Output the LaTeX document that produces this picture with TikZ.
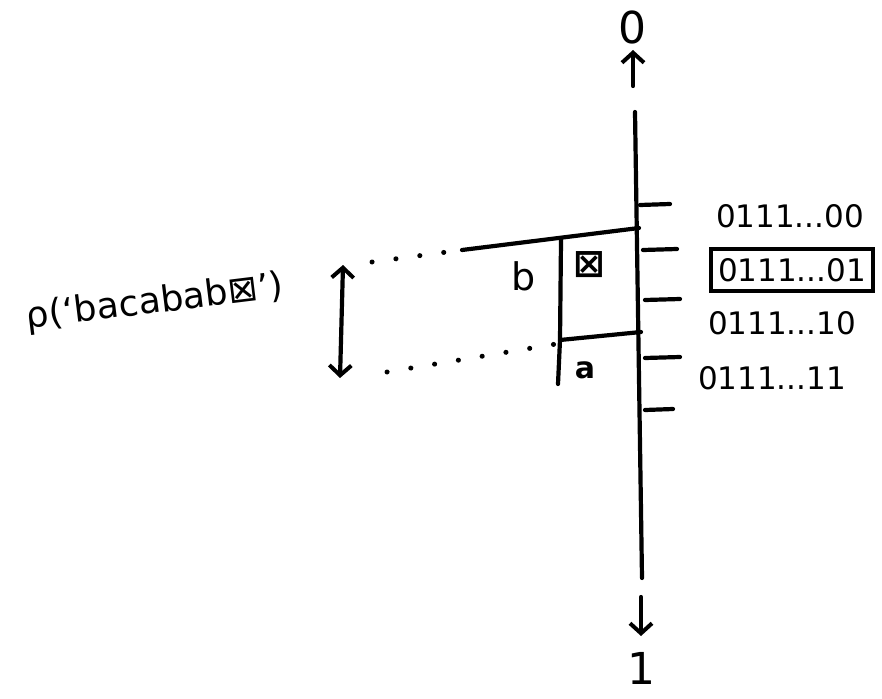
\documentclass[tikz,border=0pt]{standalone}
\usepackage{fontspec}
\setmainfont{DejaVu Sans}
\usetikzlibrary{arrows.meta}
\begin{document}
\begin{tikzpicture}[x=1pt,y=-1pt,
  ink/.style={line width=4.2pt,line cap=round,line join=round},
  barb/.tip={Straight Barb[length=10pt,width=22pt,line width=4pt]},
  tip/.style={ink,-barb},
  dots/.style={line width=5pt,line cap=round,dash pattern=on 0.1pt off 24pt},
  lab/.style={font=\fontsize{31}{33}\selectfont,inner sep=2pt},
  big/.style={font=\fontsize{44}{46}\selectfont,inner sep=0pt}]
\useasboundingbox (0,0) rectangle (882,698);
% main axis
\coordinate (top) at (635,112);
\coordinate (bot) at (642,578);
\draw[ink] (top) -- (bot);
% end arrows and labels
\coordinate (upS) at (633,86);
\coordinate (upE) at (633,50);
\draw[tip] (upS) -- (upE);
\node[big] (zero) at (632,27) {0};
\coordinate (dnS) at (641,597);
\coordinate (dnE) at (641,636);
\draw[tip] (dnS) -- (dnE);
\node[big] (one) at (641,668) {1};
% ticks
\foreach \y/\xa/\xb [count=\i] in {205/640/670, 250/643/677, 300/645/680, 358/645/680, 410/645/673}{
  \coordinate (tA\i) at (\xa,\y);
  \coordinate (tB\i) at (\xb,\y-1);
  \draw[ink] (tA\i) -- (tB\i);
}
% box
\coordinate (bxTL) at (462,250);
\coordinate (bxTR) at (639,228);
\draw[ink] (bxTL) -- (bxTR);
\coordinate (vT) at (561,240);
\coordinate (vM) at (560,340);
\coordinate (vB) at (558,384);
\draw[ink] (vT) -- (vM) -- (vB);
\coordinate (mR) at (641,332);
\draw[ink] (vM) -- (mR);
\node[lab,font=\fontsize{38}{40}\selectfont] (b) at (524,276) {b};
\node[lab,font=\fontsize{38}{40}\selectfont\bfseries] (sq) at (589,265) {⊠};
\node[lab,font=\fontsize{30}{32}\selectfont\bfseries] (a) at (585,370) {a};
% codes
\node[lab] (c00) at (790,216) {0111...00};
\node[lab,draw,line width=4pt,inner xsep=7pt,inner ysep=9pt] (c01) at (792,270) {0111...01};
\node[lab] (c10) at (782,323) {0111...10};
\node[lab] (c11) at (772,378) {0111...11};
% dotted guide lines
\coordinate (dT1) at (372,262);
\draw[dots] (dT1) -- (bxTL);
\coordinate (dB1) at (387,372);
\coordinate (dB2) at (556,344);
\draw[dots] (dB1) -- (dB2);
% double arrow
\coordinate (arT) at (343,265);
\coordinate (arB) at (340,378);
\draw[ink,barb-barb] (arT) -- (arB);
% rho label
\node[lab,font=\fontsize{36}{38}\selectfont,rotate=7] (rho) at (155,303) {ρ(‘bacabab⊠’)};
\end{tikzpicture}
\end{document}
